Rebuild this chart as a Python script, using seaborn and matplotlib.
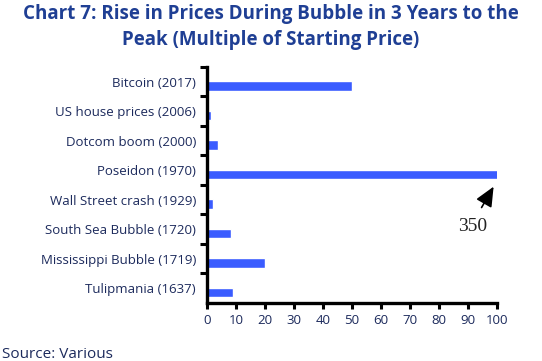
import matplotlib
matplotlib.use("Agg")
import matplotlib.pyplot as plt
import seaborn as sns
import pandas as pd

sns.set_theme(style="white")
plt.rcParams["font.family"] = ["Open Sans", "DejaVu Sans"]

bubbles = ["Bitcoin (2017)", "US house prices (2006)", "Dotcom boom (2000)",
           "Poseidon (1970)", "Wall Street crash (1929)", "South Sea Bubble (1720)",
           "Mississippi Bubble (1719)", "Tulipmania (1637)"]
multiples = [50, 1.3, 3.8, 350, 2.1, 8.3, 20, 9]
x_ticks = list(range(0, 101, 10))

BAR = "#3a5cff"
NAVY = "#1c2a5c"
TITLE = "#1f3f94"

df = pd.DataFrame({"bubble": bubbles, "multiple": multiples})

fig = plt.figure(figsize=(5.42, 3.61), dpi=100)
ax = fig.add_axes([0.382, 0.161, 0.535, 0.654])

sns.barplot(data=df, x="multiple", y="bubble", orient="h", color=BAR,
            saturation=1, width=0.31, ax=ax)
# bars sit in the lower part of each slot
for p in ax.patches:
    p.set_y(p.get_y() + 0.15)

ax.set_xlim(0, 100)
ax.set_ylim(len(bubbles) - 0.5, -0.5)
ax.set_xticks(x_ticks)
ax.set_xticklabels([str(t) for t in x_ticks], fontsize=9.5, color=NAVY)
ax.set_yticks(range(len(bubbles)))
ax.set_yticklabels(bubbles, fontsize=9.5, color=NAVY)
ax.set_yticks([i - 0.5 for i in range(len(bubbles))], minor=True)
ax.tick_params(axis="y", which="major", length=0, pad=8)
ax.tick_params(axis="y", which="minor", length=5, width=2.2, direction="out", color="black", left=True)
ax.tick_params(axis="x", length=4, width=2.2, direction="out", color="black", bottom=True, pad=4)
ax.set_xlabel("")
ax.set_ylabel("")

for s in ["top", "right"]:
    ax.spines[s].set_visible(False)
for s in ["left", "bottom"]:
    ax.spines[s].set_linewidth(2.4)
    ax.spines[s].set_color("black")

ax.annotate("", xy=(99.3, 3.48), xytext=(94.2, 4.35),
            arrowprops=dict(arrowstyle="-|>,head_length=1.0,head_width=0.45",
                            color="black", lw=1.2), annotation_clip=False)
ax.text(91.7, 4.92, "350", ha="center", va="center", fontsize=14,
        family=["Liberation Serif"], color="#222222")

fig.text(0.5, 0.925, "Chart 7: Rise in Prices During Bubble in 3 Years to the\nPeak (Multiple of Starting Price)",
         ha="center", va="center", fontsize=13.5, fontweight="bold", color=TITLE,
         linespacing=1.35)
fig.text(0.004, 0.008, "Source: Various", ha="left", va="baseline", fontsize=11, color=NAVY)

fig.savefig("out.png", dpi=100)
